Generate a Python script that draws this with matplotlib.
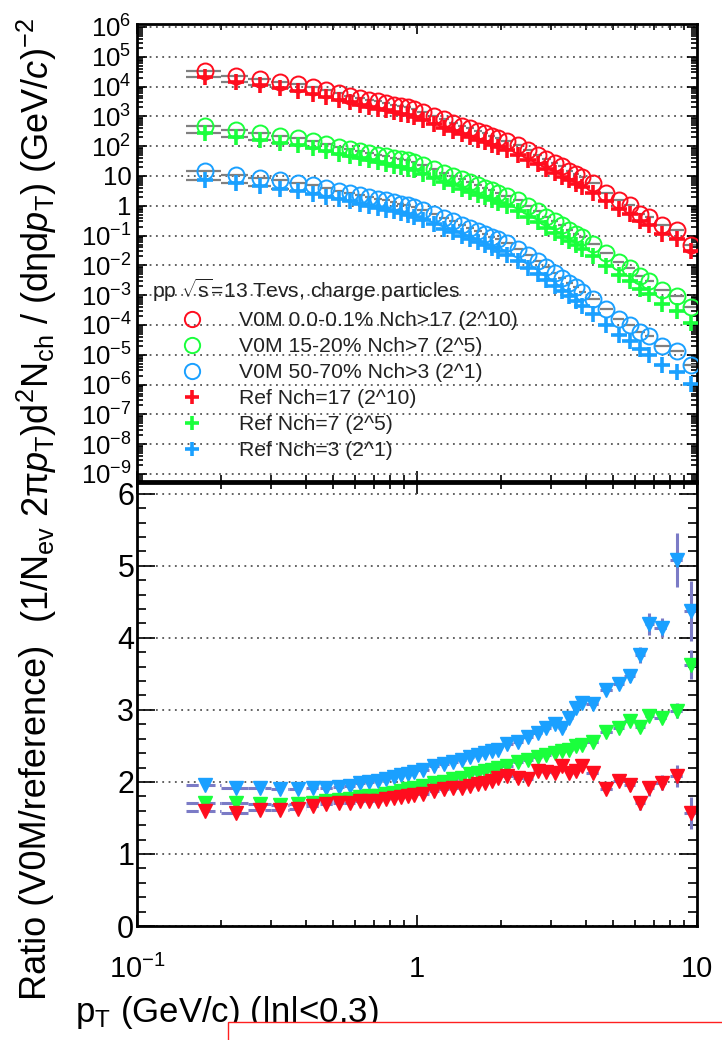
import numpy as np
import matplotlib
matplotlib.use('Agg')
import matplotlib.pyplot as plt
from matplotlib.lines import Line2D
from matplotlib.patches import Rectangle
from matplotlib.ticker import FixedLocator, FixedFormatter, NullFormatter, LogLocator, MultipleLocator

plt.rcParams['font.family'] = ['Liberation Sans', 'DejaVu Sans']
plt.rcParams['mathtext.fontset'] = 'custom'
plt.rcParams['mathtext.rm'] = 'Liberation Sans'
plt.rcParams['mathtext.it'] = 'Liberation Sans:italic'
plt.rcParams['mathtext.bf'] = 'Liberation Sans:bold'
plt.rcParams['mathtext.default'] = 'regular'

# ── Data ─────────────────────────────────────────────────────────────────────

pt_edges = [0.15, 0.2, 0.25, 0.3, 0.35, 0.4, 0.45, 0.5, 0.55, 0.6, 0.65, 0.7, 0.75,
            0.8, 0.85, 0.9, 0.95, 1.0, 1.1, 1.2, 1.3, 1.4, 1.5, 1.6, 1.7, 1.8, 1.9,
            2.0, 2.2, 2.4, 2.6, 2.8, 3.0, 3.2, 3.4, 3.6, 3.8, 4.0, 4.5, 5.0, 5.5,
            6.0, 6.5, 7.0, 8.0, 9.0, 10.0]

# spectra, log10 of the scaled yield
red_v0m_log = [4.52, 4.37, 4.26, 4.16, 4.07, 3.97, 3.87, 3.78, 3.70, 3.63, 3.56, 3.50,
               3.45, 3.39, 3.34, 3.30, 3.25, 3.14, 3.02, 2.90, 2.79, 2.69, 2.60, 2.50,
               2.43, 2.34, 2.28, 2.18, 2.03, 1.86, 1.72, 1.57, 1.43, 1.32, 1.18, 1.06,
               0.97, 0.77, 0.44, 0.20, 0.01, -0.27, -0.36, -0.64, -0.80, -1.32]
green_v0m_log = [2.67, 2.54, 2.43, 2.34, 2.26, 2.16, 2.07, 1.98, 1.92, 1.84, 1.78, 1.72,
                 1.66, 1.61, 1.56, 1.52, 1.47, 1.36, 1.24, 1.10, 1.00, 0.89, 0.79, 0.70,
                 0.61, 0.52, 0.44, 0.33, 0.18, -0.02, -0.19, -0.36, -0.52, -0.66, -0.80,
                 -0.93, -1.06, -1.27, -1.58, -1.88, -2.09, -2.36, -2.51, -2.84, -3.04, -3.38]
blue_v0m_log = [1.16, 1.03, 0.93, 0.85, 0.78, 0.69, 0.59, 0.51, 0.44, 0.37, 0.30, 0.23,
                0.18, 0.13, 0.07, 0.02, -0.03, -0.14, -0.27, -0.42, -0.52, -0.64, -0.75,
                -0.85, -0.94, -1.04, -1.13, -1.26, -1.44, -1.66, -1.86, -2.05, -2.24,
                -2.43, -2.58, -2.73, -2.88, -3.14, -3.48, -3.79, -4.01, -4.25, -4.38,
                -4.72, -4.86, -5.35]
red_ref_log = [4.32, 4.17, 4.05, 3.95, 3.86, 3.75, 3.64, 3.55, 3.47, 3.39, 3.32, 3.26,
               3.20, 3.14, 3.09, 3.04, 2.99, 2.88, 2.75, 2.62, 2.51, 2.41, 2.31, 2.21,
               2.13, 2.04, 1.97, 1.86, 1.72, 1.55, 1.39, 1.24, 1.10, 0.97, 0.85, 0.73,
               0.62, 0.44, 0.16, -0.10, -0.28, -0.50, -0.64, -0.94, -1.12, -1.52]
green_ref_log = [2.44, 2.31, 2.20, 2.11, 2.03, 1.93, 1.83, 1.74, 1.67, 1.59, 1.52, 1.46,
                 1.40, 1.34, 1.29, 1.24, 1.19, 1.07, 0.94, 0.80, 0.69, 0.58, 0.47, 0.37,
                 0.28, 0.18, 0.10, -0.02, -0.18, -0.38, -0.56, -0.73, -0.90, -1.05, -1.19,
                 -1.33, -1.46, -1.68, -2.01, -2.32, -2.54, -2.80, -2.97, -3.30, -3.52, -3.94]
blue_ref_log = [0.87, 0.75, 0.65, 0.57, 0.50, 0.41, 0.31, 0.22, 0.15, 0.07, 0.00, -0.07,
                -0.13, -0.19, -0.25, -0.30, -0.36, -0.48, -0.62, -0.77, -0.88, -1.00,
                -1.12, -1.22, -1.32, -1.43, -1.52, -1.66, -1.85, -2.08, -2.29, -2.49,
                -2.69, -2.87, -3.04, -3.21, -3.37, -3.63, -3.99, -4.32, -4.55, -4.82,
                -5.00, -5.34, -5.57, -5.99]

# ratios V0M / reference
red_ratio = [1.60, 1.57, 1.61, 1.61, 1.63, 1.67, 1.70, 1.71, 1.71, 1.73, 1.73, 1.73,
             1.76, 1.78, 1.79, 1.80, 1.82, 1.83, 1.87, 1.90, 1.92, 1.92, 1.94, 1.97,
             1.99, 2.01, 2.06, 2.08, 2.06, 2.04, 2.15, 2.14, 2.13, 2.22, 2.12, 2.15,
             2.22, 2.13, 1.90, 2.01, 1.96, 1.71, 1.91, 1.99, 2.08, 1.57]
green_ratio = [1.71, 1.71, 1.69, 1.68, 1.69, 1.71, 1.73, 1.75, 1.77, 1.79, 1.80, 1.81,
               1.83, 1.85, 1.87, 1.90, 1.92, 1.94, 1.98, 2.00, 2.04, 2.06, 2.11, 2.13,
               2.15, 2.17, 2.20, 2.22, 2.27, 2.30, 2.35, 2.37, 2.40, 2.43, 2.45, 2.50,
               2.51, 2.55, 2.69, 2.75, 2.85, 2.76, 2.92, 2.89, 2.99, 3.63]
blue_ratio = [1.96, 1.92, 1.92, 1.90, 1.90, 1.91, 1.92, 1.93, 1.95, 1.98, 2.00, 2.01,
              2.04, 2.07, 2.09, 2.11, 2.14, 2.17, 2.22, 2.25, 2.27, 2.30, 2.35, 2.37,
              2.40, 2.43, 2.45, 2.52, 2.56, 2.62, 2.68, 2.75, 2.80, 2.75, 2.89, 3.02,
              3.10, 3.08, 3.27, 3.36, 3.47, 3.76, 4.19, 4.14, 5.08, 4.37]

red_ratio_err = [0.01, 0.01, 0.01, 0.01, 0.01, 0.01, 0.01, 0.01, 0.01, 0.01, 0.01, 0.01,
                 0.01, 0.01, 0.01, 0.01, 0.01, 0.015, 0.015, 0.015, 0.015, 0.015, 0.015,
                 0.015, 0.015, 0.015, 0.015, 0.015, 0.02, 0.02, 0.02, 0.025, 0.03, 0.03,
                 0.035, 0.04, 0.045, 0.04, 0.05, 0.06, 0.08, 0.10, 0.10, 0.10, 0.15, 0.22]
green_ratio_err = [0.01, 0.01, 0.01, 0.01, 0.01, 0.01, 0.01, 0.01, 0.01, 0.01, 0.01, 0.01,
                   0.01, 0.01, 0.01, 0.01, 0.01, 0.01, 0.01, 0.01, 0.01, 0.01, 0.015,
                   0.015, 0.015, 0.015, 0.015, 0.015, 0.02, 0.02, 0.02, 0.02, 0.025,
                   0.025, 0.03, 0.03, 0.03, 0.03, 0.04, 0.05, 0.05, 0.06, 0.07, 0.06,
                   0.10, 0.20]
blue_ratio_err = [0.01, 0.01, 0.01, 0.01, 0.01, 0.01, 0.01, 0.01, 0.01, 0.01, 0.01, 0.01,
                  0.01, 0.01, 0.01, 0.01, 0.01, 0.015, 0.015, 0.015, 0.015, 0.015, 0.02,
                  0.02, 0.02, 0.02, 0.02, 0.02, 0.025, 0.025, 0.03, 0.03, 0.035, 0.035,
                  0.04, 0.045, 0.05, 0.06, 0.06, 0.07, 0.08, 0.11, 0.15, 0.13, 0.37, 0.42]

v0m_labels = ['V0M 0.0-0.1% Nch>17 (2^10)', 'V0M 15-20% Nch>7 (2^5)', 'V0M 50-70% Nch>3 (2^1)']
ref_labels = ['Ref Nch=17 (2^10)', 'Ref Nch=7 (2^5)', 'Ref Nch=3 (2^1)']
header = 'pp $\\sqrt{s}$=13 Tevs, charge particles'

RED, GREEN, BLUE = '#ff0d1e', '#1aff3c', '#1aa0ff'
ERRC = '#7b7bc6'
colors = [RED, GREEN, BLUE]

# ── Figure ────────────────────────────────────────────────────────────────────

W, H = 722, 1040
fig = plt.figure(figsize=(W / 100, H / 100), dpi=100)

def box(x0, y0, x1, y1):
    return [x0 / W, 1 - y1 / H, (x1 - x0) / W, (y1 - y0) / H]

ax1 = fig.add_axes(box(137, 24, 697, 481), zorder=0)
ax2 = fig.add_axes(box(137, 483, 697, 926), zorder=2)

edges = np.array(pt_edges)
pt = 0.5 * (edges[1:] + edges[:-1])
xerr = [pt - edges[:-1], edges[1:] - pt]

# ── Top pad: spectra ─────────────────────────────────────────────────────────

for logs, c in zip([red_v0m_log, green_v0m_log, blue_v0m_log], colors):
    y = 10.0 ** np.array(logs)
    ax1.errorbar(pt, y, xerr=xerr, fmt='none', ecolor='#808080', elinewidth=1.6, zorder=2)
    ax1.plot(pt, y, 'o', ms=11.5, mfc='none', mec=c, mew=1.4, zorder=3)
for logs, c in zip([red_ref_log, green_ref_log, blue_ref_log], colors):
    y = 10.0 ** np.array(logs)
    ax1.errorbar(pt, y, xerr=xerr, fmt='none', ecolor='#808080', elinewidth=1.6, zorder=2)
    ax1.plot(pt, y, '+', ms=11, color=c, mew=2.6, zorder=4)

ax1.set_xscale('log')
ax1.set_yscale('log')
ax1.set_xlim(0.1, 10)
ax1.set_ylim(10 ** -9.235, 10 ** 6.1)
dec = np.arange(-9, 7)
ylabs = []
for d in dec:
    if d == 0:
        ylabs.append('1')
    elif d == 1:
        ylabs.append('10')
    else:
        ylabs.append('10$^{%d}$' % d)
ax1.yaxis.set_major_locator(FixedLocator(10.0 ** dec))
ax1.yaxis.set_major_formatter(FixedFormatter(ylabs))
ax1.yaxis.set_minor_locator(LogLocator(base=10, subs=np.arange(2, 10), numticks=100))
ax1.yaxis.set_minor_formatter(NullFormatter())
ax1.xaxis.set_major_locator(FixedLocator([0.1, 1, 10]))
ax1.xaxis.set_minor_locator(LogLocator(base=10, subs=np.arange(2, 10), numticks=100))
ax1.tick_params(which='both', direction='in', top=True, right=True, width=1.2,
                labelbottom=False)
ax1.tick_params(which='major', length=7.5, labelsize=18.5, pad=4)
ax1.tick_params(which='minor', length=4)
ax1.yaxis.grid(True, which='major', ls=(0, (1, 2.5)), lw=1.3, color='#555555')
ax1.set_axisbelow(True)
for s in ax1.spines.values():
    s.set_linewidth(2)

handles = [Line2D([], [], ls='none', marker='o', ms=11, mfc='none', mec=c, mew=1.4)
           for c in colors]
handles += [Line2D([], [], ls='none', marker='+', ms=10, color=c, mew=2.6) for c in colors]
leg = ax1.legend(handles, v0m_labels + ref_labels, title=header, alignment='left',
                 frameon=False, fontsize=15.2, title_fontsize=15.2, handlelength=3.8,
                 handletextpad=0.3, labelspacing=0.33, borderpad=0, borderaxespad=0,
                 loc='upper left', bbox_to_anchor=(152 / W, 1 - 277 / H),
                 bbox_transform=fig.transFigure)
for t in leg.get_texts():
    t.set_color('#222222')
leg.get_title().set_color('#222222')

# ── Bottom pad: ratios ───────────────────────────────────────────────────────

for vals, errs, c in zip([blue_ratio, green_ratio, red_ratio],
                         [blue_ratio_err, green_ratio_err, red_ratio_err],
                         [BLUE, GREEN, RED]):
    eb = ax2.errorbar(pt, vals, xerr=xerr, yerr=errs, fmt='v', ms=10, color=c, mec=c,
                      ecolor=ERRC, elinewidth=2.2, capsize=0)
    eb.lines[2][0].set_linestyle((0, (4, 1.5)))

ax2.set_xscale('log')
ax2.set_xlim(0.1, 10)
ax2.set_ylim(0, 6.15)
ax2.xaxis.set_major_locator(FixedLocator([0.1, 1, 10]))
ax2.xaxis.set_major_formatter(FixedFormatter(['10$^{-1}$', '1', '10']))
ax2.xaxis.set_minor_locator(LogLocator(base=10, subs=np.arange(2, 10), numticks=100))
ax2.xaxis.set_minor_formatter(NullFormatter())
ax2.yaxis.set_major_locator(FixedLocator([0, 1, 2, 3, 4, 5, 6]))
ax2.yaxis.set_major_formatter(FixedFormatter(['0', '1', '2', '3', '4', '5', '6']))
ax2.yaxis.set_minor_locator(MultipleLocator(0.2))
ax2.tick_params(which='both', direction='in', top=True, right=True, width=1.2)
ax2.tick_params(axis='y', which='major', length=13, labelsize=22, pad=2)
ax2.tick_params(axis='y', which='minor', length=6.5)
ax2.tick_params(axis='x', which='major', length=8, labelsize=21, pad=21)
ax2.tick_params(axis='x', which='minor', length=4)
ax2.yaxis.grid(True, which='major', ls=(0, (1, 2.5)), lw=1.3, color='#555555')
ax2.set_axisbelow(True)
for s in ax2.spines.values():
    s.set_linewidth(2)

# hide the bottom of the lowest top-pad label, as the lower pad does
fig.add_artist(Rectangle((0, 1 - 489 / H), 136 / W, 6 / H, transform=fig.transFigure,
                         fc='white', ec='none', zorder=1))

# ── Titles ───────────────────────────────────────────────────────────────────

top_title = ('(1/N$_{ev}$ 2$\\pi$$\\mathit{p}_{T}$)d$^{2}$N$_{ch}$ / '
             '(d$\\eta$d$\\mathit{p}_{T}$) (GeV/$\\mathit{c}$)$^{-2}$')
fig.text(37 / W, 1 - 18 / H, top_title, rotation=90, ha='center', va='top', fontsize=26,
         zorder=3)
fig.text(37 / W, 1 - 1000 / H, 'Ratio (V0M/reference)', rotation=90, ha='center',
         va='bottom', fontsize=26, zorder=3)
fig.text(75 / W, 1 - 1022 / H, 'p$_{T}$ (GeV/c) (|\u03b7|<0.3)', ha='left',
         va='baseline', fontsize=25, zorder=3)

fig.add_artist(Rectangle((228 / W, -0.01), 0.8, 0.01 + 18 / H, transform=fig.transFigure,
                         fc='white', ec='#ff2020', lw=1, zorder=5))

fig.savefig('out.png', dpi=100)
